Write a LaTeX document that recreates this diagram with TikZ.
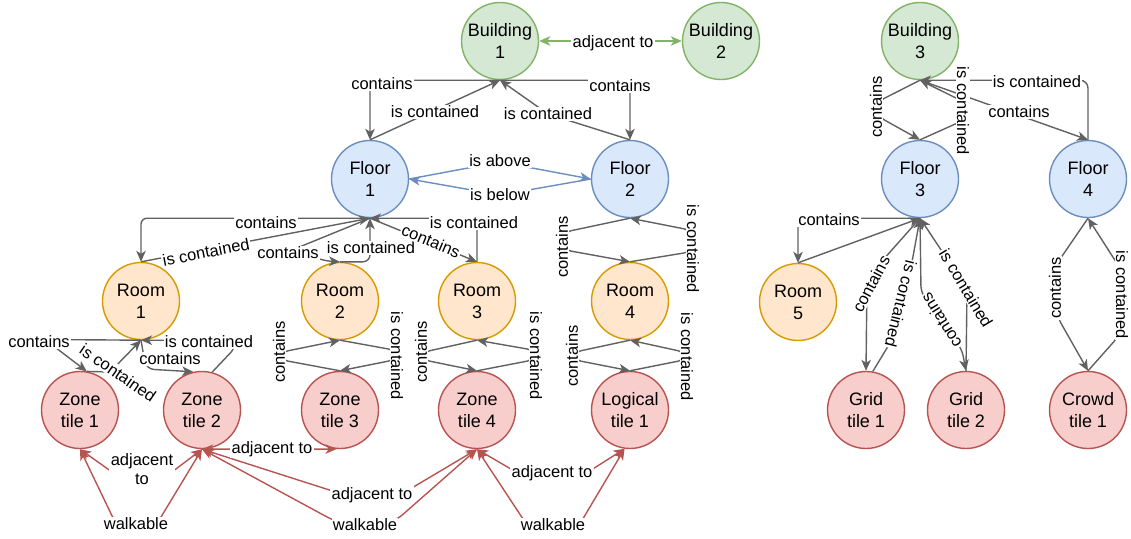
\documentclass[tikz,border=0pt]{standalone}
\usepackage{fontspec}
\setmainfont{Liberation Sans}
\usetikzlibrary{arrows.meta}

\definecolor{bldgfill}{HTML}{D5E8D4}
\definecolor{bldgline}{HTML}{82B366}
\definecolor{floorfill}{HTML}{DAE8FC}
\definecolor{floorline}{HTML}{6C8EBF}
\definecolor{roomfill}{HTML}{FFE6CC}
\definecolor{roomline}{HTML}{D79B00}
\definecolor{tilefill}{HTML}{F8CECC}
\definecolor{tileline}{HTML}{B85450}
\definecolor{relgray}{HTML}{616161}

\newcommand\entfont{\fontsize{18}{22}\selectfont}
\newcommand\relfont{\fontsize{16.5}{19}\selectfont}

\tikzset{
  ent/.style={circle, minimum size=77pt, inner sep=0pt, line width=1.4pt, align=center, font=\entfont},
  bldg/.style={ent, draw=bldgline, fill=bldgfill},
  flr/.style={ent, draw=floorline, fill=floorfill},
  rm/.style={ent, draw=roomline, fill=roomfill},
  tl/.style={ent, draw=tileline, fill=tilefill},
  rel/.style={draw=relgray, line width=1.4pt, ->, rounded corners=6pt},
  vert/.style={draw=floorline, line width=1.4pt, ->},
  nbr/.style={draw=bldgline, line width=1.4pt, <->},
  way/.style={draw=tileline, line width=1.4pt, <->},
  lbl/.style={fill=white, inner sep=1.2pt, font=\relfont, align=center},
}

\begin{document}
\begin{tikzpicture}[x=1pt, y=-1pt, >={Stealth[length=11pt,width=9.5pt,inset=3pt]}]
\useasboundingbox (0,0) rectangle (1131,538);

% ---------- entities ----------
\node[bldg] (B1) at (500,41) {Building\\1};
\node[bldg] (B2) at (721,41) {Building\\2};
\node[bldg] (B3) at (920,41) {Building\\3};

\node[flr] (F1) at (370,179) {Floor\\1};
\node[flr] (F2) at (630,179) {Floor\\2};
\node[flr] (F3) at (920,179) {Floor\\3};
\node[flr] (F4) at (1088,179) {Floor\\4};

\node[rm] (R1) at (141,301) {Room\\1};
\node[rm] (R2) at (340,301) {Room\\2};
\node[rm] (R3) at (477,301) {Room\\3};
\node[rm] (R4) at (630,301) {Room\\4};
\node[rm] (R5) at (798,302) {Room\\5};

\node[tl] (ZT1) at (80,410) {Zone\\tile 1};
\node[tl] (ZT2) at (202,410) {Zone\\tile 2};
\node[tl] (ZT3) at (340,410) {Zone\\tile 3};
\node[tl] (ZT4) at (477,410) {Zone\\tile 4};
\node[tl] (LT1) at (630,410) {Logical\\tile 1};
\node[tl] (GT1) at (866,410) {Grid\\tile 1};
\node[tl] (GT2) at (966,410) {Grid\\tile 2};
\node[tl] (CT1) at (1088,410) {Crowd\\tile 1};

% ---------- building level ----------
\draw[nbr] (B1.east) -- (B2.west);
\draw[rel] (B1.south) -| (F1.north);
\draw[rel] (F1.north) -- (B1.south);
\draw[rel] (B1.south) -| (F2.north);
\draw[rel] (F2.north) -- (548,114) -- (B1.south);

% ---------- floors 1 and 2 ----------
\draw[vert] (F1.east) -- (500,162) -- (F2.west);
\draw[vert] (F2.west) -- (500,195) -- (F1.east);

\draw[rel] (F1.south) -| (R1.north);
\draw[rel] (R1.north) -- (F1.south);
\draw[rel, rounded corners=0pt] (F1.south) -- (292,250) .. controls (312,257) and (324,261) .. (R2.north);
\draw[rel, rounded corners=7pt] (R2.north) -| (F1.south);
\draw[rel] (F1.south) -- (R3.north);
\draw[rel, rounded corners=7pt] (R3.north) |- (F1.south);

\draw[rel] (F2.south) -- (565,232) -- (565,250) -- (R4.north);
\draw[rel] (R4.north) -- (690,252) -- (690,230) -- (F2.south);

% ---------- rooms to tiles ----------
\draw[rel] (R1.south) -- (45,339.5) -- (ZT1.80);
\draw[rel] (ZT1.80) -- (110,372) -- (R1.south);
\draw[rel, rounded corners=8pt] (R1.south) -- (146,369) -- (ZT2.103);
\draw[rel] (ZT2.75) -- (235,348) |- (R1.south);

\draw[rel] (ZT3.north) -- (282,360) -- (282,352) -- (R2.south);
\draw[rel] (R2.south) -- (394,350) -- (394,360) -- (ZT3.north);

\draw[rel] (R3.south) -- (424,352) -- (424,360) -- (ZT4.north);
\draw[rel] (ZT4.north) -- (533,360) -- (533,350) -- (R3.south);

\draw[rel] (R4.south) -- (575,352) -- (575,360) -- (LT1.north);
\draw[rel] (LT1.north) -- (684,360) -- (684,352) -- (R4.south);

% ---------- tile neighbourhood ----------
\draw[way] (ZT1.south) -- (112,472) -- (172,472) -- (ZT2.south);
\draw[way] (ZT1.south) -- (115,522) -- (158,522) -- (ZT2.south);
\draw[way] (ZT2.south) -- (ZT3.265);
\draw[way, rounded corners=14pt] (ZT2.south) -- (345,495) -- (400,495) -- (ZT4.south);
\draw[way, rounded corners=14pt] (ZT2.south) -- (340,524) -- (392,524) -- (ZT4.south);
\draw[way] (ZT4.south) -- (516,472) -- (588,472) -- (LT1.262);
\draw[way] (ZT4.south) -- (525,522) -- (581,522) -- (LT1.262);

% ---------- building 3 ----------
\draw[rel] (B3.south) -- (879,101) -- (879,117) -- (F3.north);
\draw[rel] (F3.north) -- (962,121) -- (962,101) -- (B3.south);
\draw[rel] (B3.south) -- (F4.north);
\draw[rel, rounded corners=8pt] (F4.north) |- (B3.south);

\draw[rel] (F3.south) -| (R5.north);
\draw[rel] (R5.north) -- (F3.south);
\draw[rel] (F3.south) -- (867,278) -- (GT1.north);
\draw[rel] (GT1.80) -- (890,343) -- (912,262) -- (F3.south);
\draw[rel] (F3.south) -- (921,292) -- (962,350) -- (GT2.north);
\draw[rel] (GT2.north) -- (967,289) -- (F3.south);

\draw[rel] (F4.south) -- (1058,262) -- (1058,318) -- (CT1.north);
\draw[rel] (CT1.north) -- (1118,337) -- (1118,265) -- (F4.south);

% ---------- relation labels ----------
\node[lbl] (tB12) at (613,43) {adjacent to};
\node[lbl] (tB1F1) at (382,84) {contains};
\node[lbl] (tF1B1) at (435,112) {is contained};
\node[lbl] (tB1F2) at (620,86) {contains};
\node[lbl] (tF2B1) at (548,114) {is contained};

\node[lbl] (tAbove) at (500,161) {is above};
\node[lbl] (tBelow) at (500,195) {is below};

\node[lbl] (tF1R1) at (266,223) {contains};
\node[lbl, rotate=11] (tR1F1) at (206,252) {is contained};
\node[lbl] (tF1R2) at (288,253) {contains};
\node[lbl] (tR2F1) at (371,248) {is contained};
\node[lbl, rotate=-22.6] (tF1R3) at (431,241) {contains};
\node[lbl] (tR3F1) at (474,223) {is contained};

\node[lbl, rotate=90] (tF2R4) at (562,247) {contains};
\node[lbl, rotate=-90] (tR4F2) at (693,249) {is contained};

\node[lbl] (tR1Z1) at (39,342) {contains};
\node[lbl, rotate=-34.5] (tZ1R1) at (118,373) {is contained};
\node[lbl] (tR1Z2) at (170,359) {contains};
\node[lbl] (tZ2R1) at (209,342) {is contained};

\node[lbl, rotate=90] (tR2Z3) at (279,352) {contains};
\node[lbl, rotate=-90] (tZ3R2) at (397,356) {is contained};
\node[lbl, rotate=90] (tR3Z4) at (421,352) {contains};
\node[lbl, rotate=-90] (tZ4R3) at (536,356) {is contained};
\node[lbl, rotate=90] (tR4L1) at (572,356) {contains};
\node[lbl, rotate=-90] (tL1R4) at (687,357) {is contained};

\node[lbl, inner sep=2pt] (tZ12a) at (142,469) {adjacent\\to};
\node[lbl] (tZ12w) at (136,524) {walkable};
\node[lbl] (tZ23a) at (272,449) {adjacent to};
\node[lbl] (tZ24a) at (372,495) {adjacent to};
\node[lbl] (tZ24w) at (365,525) {walkable};
\node[lbl] (tZ4La) at (552,473) {adjacent to};
\node[lbl] (tZ4Lw) at (553,525) {walkable};

\node[lbl, rotate=90] (tB3F3) at (876,107) {contains};
\node[lbl, rotate=-90] (tF3B3) at (963,111) {is contained};
\node[lbl] (tB3F4) at (1019,112) {contains};
\node[lbl] (tF4B3) at (1037,82) {is contained};

\node[lbl] (tF3R5) at (829,220) {contains};
\node[lbl, rotate=62] (tF3G1) at (871,284) {contains};
\node[lbl, rotate=-104] (tG1F3) at (901,304) {is contained};
\node[lbl, rotate=122] (tF3G2) at (941,321) {contains};
\node[lbl, rotate=-59] (tG2F3) at (966,288) {is contained};

\node[lbl, rotate=90] (tF4C1) at (1055,288) {contains};
\node[lbl, rotate=-90] (tC1F4) at (1122,295) {is contained};
\end{tikzpicture}
\end{document}
